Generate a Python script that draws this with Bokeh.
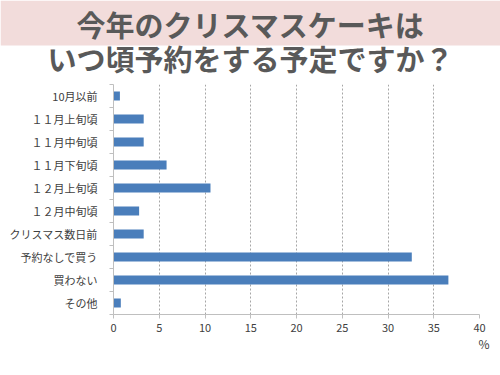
from bokeh.plotting import figure
from bokeh.layouts import column
from bokeh.models import Range1d, FixedTicker, Title, ColumnDataSource
from bokeh.core.properties import value
from bokeh.embed import file_html
from bokeh.resources import INLINE

title_lines = ["今年のクリスマスケーキは", "いつ頃予約をする予定ですか？"]
categories = ["10月以前", "１１月上旬頃", "１１月中旬頃", "１１月下旬頃", "１２月上旬頃",
              "１２月中旬頃", "クリスマス数日前", "予約なしで買う", "買わない", "その他"]
values = [0.7, 3.3, 3.3, 5.8, 10.6, 2.8, 3.3, 32.6, 36.6, 0.8]
x_ticks = [0, 5, 10, 15, 20, 25, 30, 35, 40]
unit_label = "%"

FONT = "Noto Sans CJK JP"
W = 500

# ---- title figure ----
TH = 78
t = figure(width=W, height=TH, x_range=Range1d(0, W), y_range=Range1d(0, TH),
           output_backend="svg", toolbar_location=None,
           x_axis_location=None, y_axis_location=None, min_border=0)
t.frame_align = False
t.grid.visible = False
t.outline_line_color = None
t.quad(left=0, right=W, bottom=33, top=TH, fill_color="#f2dcdb", line_color=None)
t.text(x=[250, 250], y=[55, 21], text=title_lines, text_font=value(FONT),
       text_font_size="29px", text_font_style="bold", text_color="#595959",
       text_align="center", text_baseline="middle")

# ---- chart figure ----
n = len(categories)
ypos = [n - 0.5 - i for i in range(n)]
src = ColumnDataSource(dict(y=ypos, v=values, cat=categories))

p = figure(width=W, height=297, x_range=Range1d(0, 40), y_range=Range1d(0, n),
           output_backend="svg", toolbar_location=None,
           min_border_left=113, min_border_right=21, min_border_top=6, min_border_bottom=61)
p.frame_align = False
p.outline_line_color = None
p.hbar(y="y", right="v", left=0, height=0.4, source=src,
       fill_color="#4a7ebb", line_color=None)

p.ygrid.visible = False
p.xgrid.ticker = FixedTicker(ticks=x_ticks[1:])
p.xgrid.grid_line_color = "#a6a6a6"
p.xgrid.grid_line_dash = "2 2"

p.xaxis.ticker = FixedTicker(ticks=x_ticks)
p.xaxis.axis_line_color = "#bfbfbf"
p.xaxis.major_tick_line_color = "#bfbfbf"
p.xaxis.major_tick_out = 4
p.xaxis.major_tick_in = 0
p.xaxis.minor_tick_line_color = None
p.xaxis.major_label_standoff = 5
p.xaxis.major_label_text_font = FONT
p.xaxis.major_label_text_font_size = "11px"
p.xaxis.major_label_text_color = "#404040"

p.yaxis.ticker = FixedTicker(ticks=ypos, minor_ticks=list(range(n + 1)))
p.yaxis.major_label_overrides = {y: c for y, c in zip(ypos, categories)}
p.yaxis.axis_line_color = "#bfbfbf"
p.yaxis.major_tick_line_color = None
p.yaxis.major_tick_out = 0
p.yaxis.major_tick_in = 0
p.yaxis.minor_tick_line_color = "#bfbfbf"
p.yaxis.minor_tick_out = 4
p.yaxis.minor_tick_in = 0
p.yaxis.major_label_standoff = 12
p.yaxis.major_label_text_font = FONT
p.yaxis.major_label_text_font_size = "11px"
p.yaxis.major_label_text_color = "#404040"

p.add_layout(Title(text=unit_label, align="right", offset=-10, standoff=-4,
                   text_font=FONT, text_font_size="12px", text_font_style="normal",
                   text_color="#404040"), "below")

layout = column(t, p, spacing=0)
open("out.html", "w").write(file_html(layout, INLINE))
